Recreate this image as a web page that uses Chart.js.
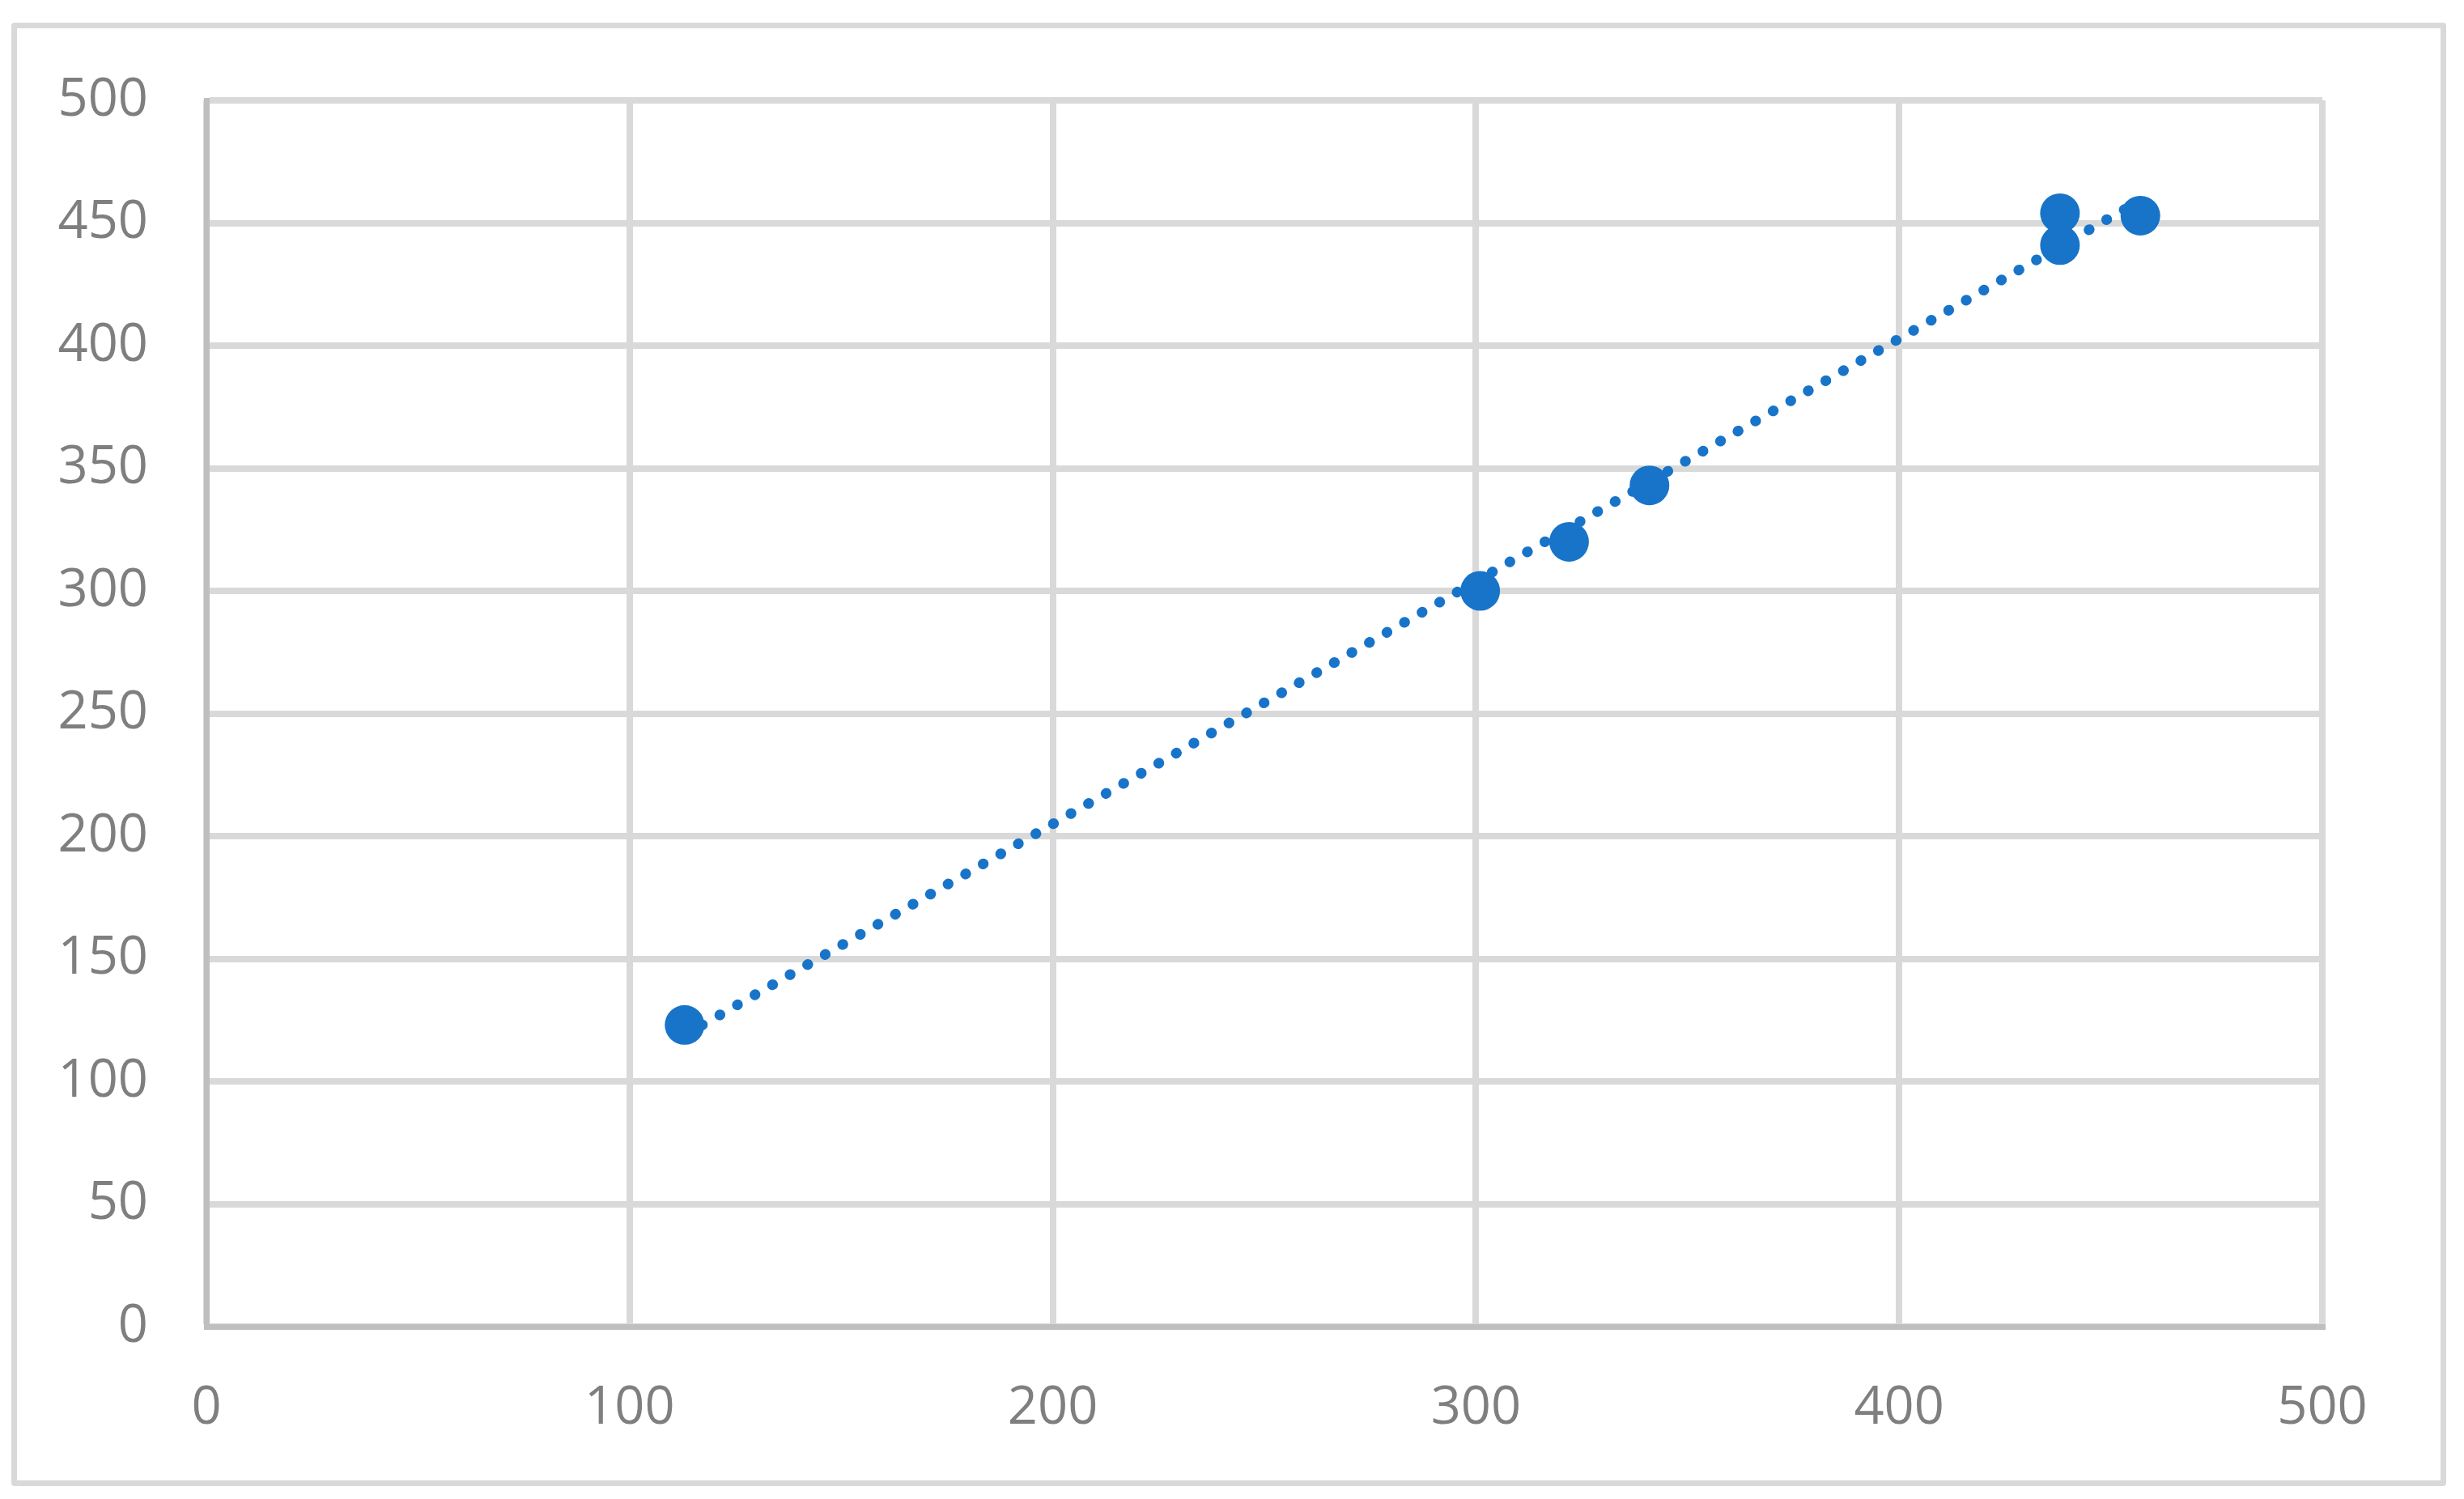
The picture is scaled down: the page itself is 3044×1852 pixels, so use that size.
<!DOCTYPE html>
<html>
<head>
<meta charset="utf-8">
<script src="https://cdn.jsdelivr.net/npm/chart.js@4.4.1/dist/chart.umd.min.js"></script>
<style>
  html, body { margin: 0; padding: 0; background: #ffffff; }
  #frame { position: absolute; left: 14px; top: 28px; width: 2994px; height: 1794px; border: 7px solid #d9d9d9; border-radius: 4px; box-sizing: content-box; }
  #wrap { position: absolute; left: 0; top: 0; width: 3044px; height: 1852px; }
</style>
</head>
<body>
<div id="frame"></div>
<div id="wrap"><canvas id="c" width="3044" height="1852"></canvas></div>
<script>
// Data
const xValues = [113, 301, 322, 341, 438, 438, 457];
const yValues = [123, 300, 320, 343, 454, 441, 453];
const xTickValues = [0, 100, 200, 300, 400, 500];
const yTickValues = [0, 50, 100, 150, 200, 250, 300, 350, 400, 450, 500];

const points = xValues.map((x, i) => ({ x: x, y: yValues[i] }));

// Linear trendline (least squares) spanning min..max x
const n = xValues.length;
const mx = xValues.reduce((a, b) => a + b, 0) / n;
const my = yValues.reduce((a, b) => a + b, 0) / n;
let sxy = 0, sxx = 0;
for (let i = 0; i < n; i++) { sxy += (xValues[i] - mx) * (yValues[i] - my); sxx += (xValues[i] - mx) ** 2; }
const slope = sxy / sxx;
const intercept = my - slope * mx;
const xMin = Math.min(...xValues), xMax = Math.max(...xValues);
const trend = [{ x: xMin, y: intercept + slope * xMin }, { x: xMax, y: intercept + slope * xMax }];

const blue = '#1874c8';
const tickFont = { family: 'Open Sans', size: 65 };
const tickColor = '#7f7f7f';

new Chart(document.getElementById('c'), {
  type: 'scatter',
  data: {
    datasets: [
      {
        label: 'Data',
        data: points,
        backgroundColor: blue,
        borderColor: blue,
        borderWidth: 0,
        pointRadius: 24.5,
        pointHoverRadius: 24.5,
        order: 0
      },
      {
        type: 'line',
        label: 'Trend',
        data: trend,
        borderColor: blue,
        borderWidth: 13,
        borderDash: [0.5, 24.5],
        borderCapStyle: 'round',
        pointRadius: 0,
        fill: false,
        order: 1
      }
    ]
  },
  options: {
    responsive: false,
    animation: false,
    events: [],
    layout: { padding: { left: 0, top: 124, right: 175, bottom: 0 } },
    plugins: { legend: { display: false }, tooltip: { enabled: false } },
    scales: {
      x: {
        type: 'linear',
        min: 0, max: 500,
        afterBuildTicks: (s) => { s.ticks = xTickValues.map(v => ({ value: v })); },
        afterFit: (s) => { s.height = 213; },
        ticks: { font: tickFont, color: tickColor, padding: 62, maxRotation: 0 },
        grid: { color: '#d9d9d9', lineWidth: 8, drawTicks: false },
        border: { display: true, color: '#bfbfbf', width: 7 }
      },
      y: {
        type: 'linear',
        min: 0, max: 500,
        afterBuildTicks: (s) => { s.ticks = yTickValues.map(v => ({ value: v })); },
        afterFit: (s) => { s.width = 255; },
        ticks: { font: tickFont, color: tickColor, padding: 72 },
        grid: { color: '#d9d9d9', lineWidth: 8, drawTicks: false },
        border: { display: true, color: '#bfbfbf', width: 7 }
      }
    }
  }
});
</script>
</body>
</html>
